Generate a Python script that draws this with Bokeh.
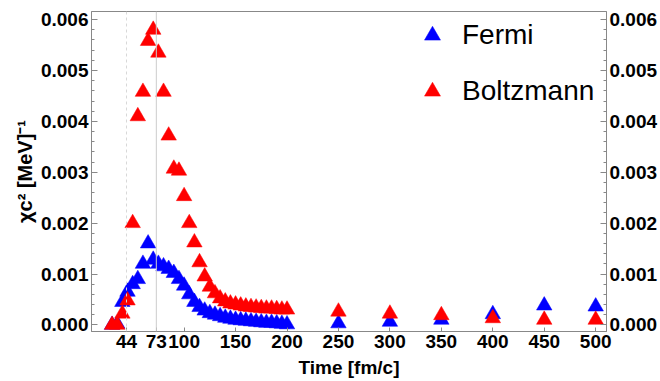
from bokeh.plotting import figure
from bokeh.models import (Range1d, LinearAxis, FixedTicker, NumeralTickFormatter,
                          Span, Legend, LegendItem)
from bokeh.embed import file_html
from bokeh.resources import INLINE

# ---- data ----
time_fm = [30, 35, 40, 45, 50, 55, 60, 65, 70, 75, 80, 85, 90, 95, 100,
           105, 110, 115, 120, 125, 130, 135, 140, 145, 150, 155, 160, 165,
           170, 175, 180, 185, 190, 195, 200, 250, 300, 350, 400, 450, 500]

fermi = [0.0, 0.00002, 0.00045, 0.00065, 0.0008, 0.0009, 0.0012, 0.0016,
         0.00128, 0.0012, 0.00115, 0.0011, 0.00102, 0.0009, 0.00077,
         0.0006, 0.00045, 0.00035, 0.00028, 0.00023, 0.0002, 0.00017,
         0.00014, 0.00012, 0.0001, 0.00009, 0.00008, 0.00007, 0.00006,
         0.00005, 0.00004, 0.00004, 0.00003, 0.00002, 0.00001,
         0.00003, 0.00006, 0.0001, 0.00021, 0.00038, 0.00036]

boltzmann = [0.0, 0.0, 0.00022, 0.00048, 0.002, 0.0041, 0.00458, 0.00558,
             0.0058, 0.00535, 0.00458, 0.00372, 0.00307, 0.00303, 0.00253,
             0.002, 0.00162, 0.00123, 0.00095, 0.00075, 0.00062, 0.00052,
             0.00046, 0.00042, 0.0004, 0.00038, 0.00036, 0.00035, 0.00034,
             0.00033, 0.00032, 0.00032, 0.00031, 0.0003, 0.0003,
             0.00026, 0.00022, 0.00019, 0.00013, 0.0001, 0.0001]

x_ticks = [44, 73, 100, 150, 200, 250, 300, 350, 400, 450, 500]
y_ticks = [0.0, 0.001, 0.002, 0.003, 0.004, 0.005, 0.006]
dashed_mark = 44
solid_mark = 73

FONT = "Liberation Sans"

p = figure(width=660, height=381, output_backend="svg", toolbar_location=None,
           x_range=Range1d(10, 510.5), y_range=Range1d(-0.00013, 0.00616),
           min_border_left=91, min_border_right=53, min_border_top=11,
           min_border_bottom=50)
p.xgrid.visible = False
p.ygrid.visible = False
p.outline_line_color = "#888888"
p.background_fill_color = "white"
p.border_fill_color = "white"

p.add_layout(Span(location=dashed_mark, dimension="height", line_color="#d8d8d8",
                  line_dash="3 3", line_width=1))
p.add_layout(Span(location=solid_mark, dimension="height", line_color="#cccccc",
                  line_width=1))

rf = p.scatter(time_fm, fermi, marker="triangle", size=15.5,
               fill_color="#0000ff", line_color="#0000ff", line_width=0.5)
rb = p.scatter(time_fm, boltzmann, marker="triangle", size=15.5,
               fill_color="#ff0000", line_color="#ff0000", line_width=0.5)

# x axis
xa = p.xaxis[0]
xa.ticker = FixedTicker(ticks=x_ticks)
xa.axis_label = "Time [fm/c]"

# y axes
ya = p.yaxis[0]
ya.axis_label = "χc² [MeV]⁻¹"
yr = LinearAxis()
p.add_layout(yr, "right")

for ax in (ya, yr):
    ax.ticker = FixedTicker(ticks=y_ticks,
                            minor_ticks=[i * 0.0002 for i in range(0, 31)])
    ax.formatter = NumeralTickFormatter(format="0.000")
    ax.minor_tick_in = 3
    ax.minor_tick_out = 0

for ax in (xa, ya, yr):
    ax.major_label_text_font = FONT
    ax.major_label_text_font_style = "bold"
    ax.major_label_text_font_size = "19px"
    ax.major_label_text_color = "black"
    ax.axis_line_color = "#888888"
    ax.major_tick_line_color = "#888888"
    ax.minor_tick_line_color = "#888888"
    ax.major_tick_in = 6
    ax.major_tick_out = 0
    ax.major_label_standoff = 3
    ax.axis_label_text_font = FONT
    ax.axis_label_text_font_style = "bold"
    ax.axis_label_text_font_size = "19px"
    ax.axis_label_text_color = "black"
    ax.axis_label_standoff = 2

xa.minor_tick_in = 0
xa.minor_tick_out = 0
xa.major_tick_in = 4
xa.axis_label_standoff = 6
ya.axis_label_text_font_size = "20px"

legend = Legend(items=[LegendItem(label="Fermi", renderers=[rf]),
                       LegendItem(label="Boltzmann", renderers=[rb])],
                location=(321, 220), glyph_width=40, glyph_height=40,
                spacing=16, padding=0, margin=0, label_standoff=10,
                label_text_font=FONT, label_text_font_size="28px",
                label_text_color="black",
                border_line_color=None, background_fill_alpha=0)
p.add_layout(legend)

open("out.html", "w").write(file_html(p, INLINE))
